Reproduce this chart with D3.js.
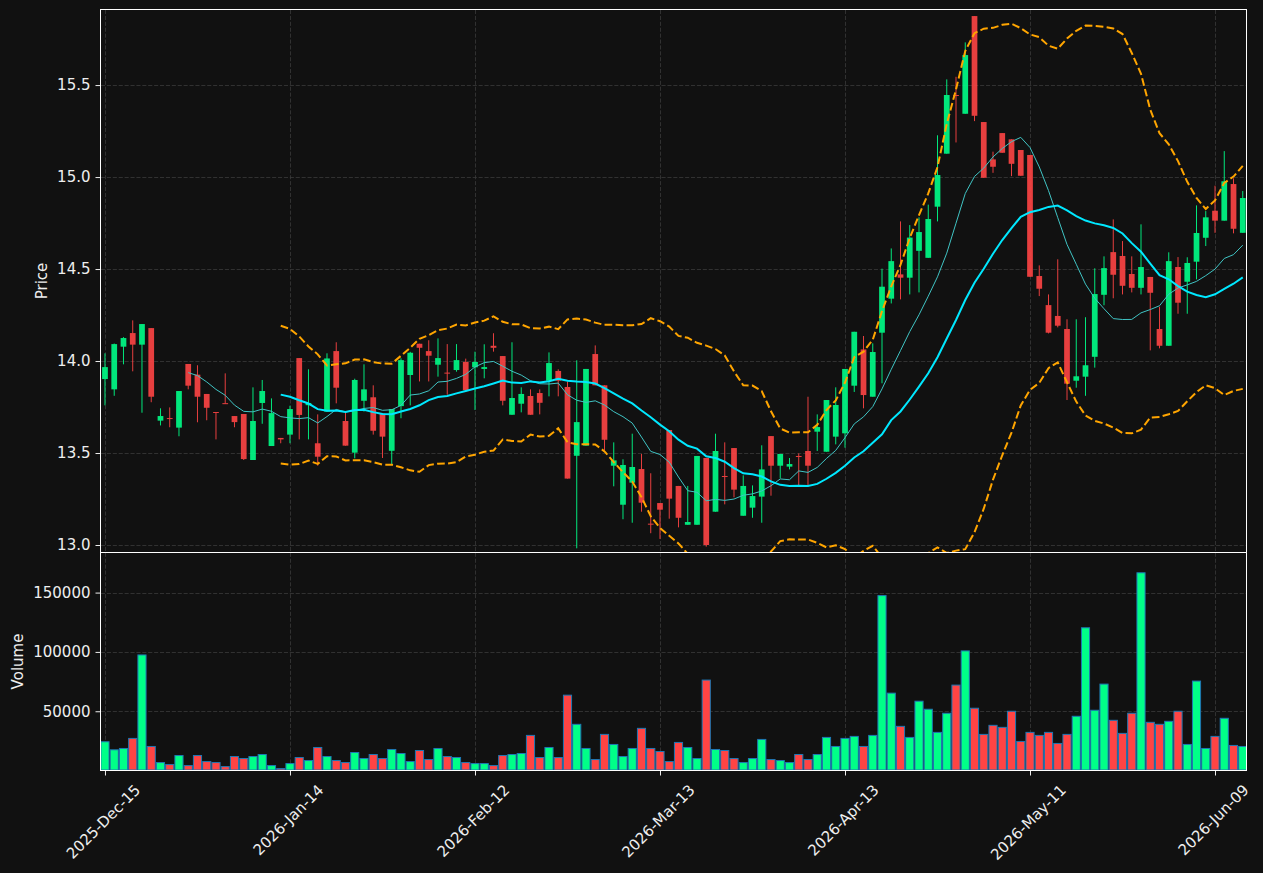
<!DOCTYPE html>
<html>
<head>
<meta charset="utf-8">
<script src="https://cdn.jsdelivr.net/npm/d3@7"></script>
<style>
  body { margin: 0; background: #111111; }
  text { font-family: "DejaVu Sans", sans-serif; }
</style>
</head>
<body>
<div id="chart"></div>
<script>
// daily OHLC + volume (index 0 = 2025-Dec-15)
var opens = [13.902, 13.846, 14.078, 14.152, 14.089, 14.179, 13.676, 13.690, 13.638, 13.984,
  13.926, 13.821, 13.723, 13.771, 13.701, 13.712, 13.462, 13.772, 13.538, 13.582,
  13.600, 14.016, 13.760, 13.553, 13.725, 14.054, 13.674, 13.502, 13.784, 13.803,
  13.714, 13.512, 13.755, 13.924, 14.094, 14.054, 13.980, 13.937, 13.951, 13.995,
  13.966, 13.957, 14.083, 14.027, 13.708, 13.768, 13.810, 13.826, 13.893, 13.946,
  13.859, 13.485, 13.540, 14.038, 13.868, 13.431, 13.219, 13.339, 13.413, 13.116,
  13.228, 13.625, 13.321, 13.110, 13.110, 13.473, 13.181, 13.375, 13.527, 13.159,
  13.203, 13.263, 13.592, 13.431, 13.426, 13.484, 13.511, 13.616, 13.507, 13.589,
  13.607, 13.866, 14.063, 13.806, 14.154, 14.339, 14.471, 14.453, 14.599, 14.561,
  14.839, 15.127, 15.446, 15.344, 15.875, 15.299, 15.096, 15.239, 15.205, 15.147,
  15.120, 14.462, 14.304, 14.245, 14.174, 13.893, 13.915, 14.023, 14.360, 14.592,
  14.571, 14.473, 14.398, 14.457, 14.174, 14.083, 14.511, 14.431, 14.540, 14.670,
  14.817, 14.763, 14.962, 14.697];
var highs = [14.042, 14.095, 14.130, 14.221, 14.201, 14.179, 13.743, 13.748, 13.837, 13.984,
  13.977, 13.821, 13.723, 13.933, 13.701, 13.712, 13.857, 13.897, 13.797, 13.582,
  13.757, 14.016, 13.955, 13.710, 14.042, 14.102, 13.725, 13.904, 13.982, 13.868,
  13.714, 13.739, 14.015, 14.050, 14.094, 14.113, 14.123, 14.092, 14.092, 14.013,
  14.051, 14.091, 14.151, 14.027, 14.102, 13.857, 13.846, 13.846, 14.047, 13.955,
  13.888, 14.004, 13.957, 14.085, 13.868, 13.558, 13.466, 13.605, 13.495, 13.390,
  13.228, 13.625, 13.321, 13.321, 13.484, 13.473, 13.605, 13.558, 13.527, 13.379,
  13.324, 13.542, 13.592, 13.495, 13.473, 13.498, 13.806, 13.710, 13.788, 13.857,
  13.957, 14.159, 14.136, 14.096, 14.502, 14.612, 14.759, 14.739, 14.781, 14.850,
  15.227, 15.531, 15.545, 15.732, 15.875, 15.299, 15.138, 15.239, 15.205, 15.147,
  15.120, 14.520, 14.362, 14.553, 14.227, 14.227, 14.238, 14.504, 14.569, 14.770,
  14.652, 14.569, 14.743, 14.457, 14.295, 14.591, 14.565, 14.564, 14.846, 14.815,
  14.953, 15.141, 14.993, 14.924];
var lows = [13.759, 13.811, 13.982, 13.944, 13.719, 13.776, 13.650, 13.640, 13.591, 13.846,
  13.667, 13.678, 13.574, 13.768, 13.640, 13.462, 13.462, 13.659, 13.538, 13.553,
  13.553, 13.574, 13.574, 13.431, 13.725, 13.770, 13.540, 13.471, 13.725, 13.600,
  13.473, 13.440, 13.689, 13.759, 13.889, 13.889, 13.915, 13.817, 13.942, 13.842,
  13.734, 13.906, 14.051, 13.759, 13.708, 13.721, 13.708, 13.710, 13.808, 13.808,
  13.361, 12.982, 13.540, 13.868, 13.513, 13.319, 13.140, 13.121, 13.181, 13.064,
  13.033, 13.143, 13.096, 13.110, 13.110, 12.991, 13.181, 13.221, 13.259, 13.159,
  13.148, 13.121, 13.268, 13.362, 13.411, 13.326, 13.326, 13.511, 13.507, 13.547,
  13.529, 13.832, 13.743, 13.806, 13.879, 14.313, 14.335, 14.362, 14.373, 14.561,
  14.759, 15.127, 15.188, 15.344, 15.304, 14.996, 15.023, 15.132, 15.005, 15.007,
  14.458, 14.353, 14.150, 14.183, 13.788, 13.855, 13.811, 13.964, 14.303, 14.341,
  14.362, 14.373, 14.362, 14.058, 14.069, 14.083, 14.257, 14.257, 14.444, 14.625,
  14.697, 14.763, 14.694, 14.697];
var closes = [13.967, 14.092, 14.125, 14.089, 14.201, 13.806, 13.701, 13.686, 13.837, 13.866,
  13.806, 13.746, 13.720, 13.768, 13.668, 13.467, 13.674, 13.837, 13.717, 13.574,
  13.739, 13.707, 13.772, 13.480, 14.014, 13.855, 13.540, 13.897, 13.846, 13.621,
  13.589, 13.739, 14.005, 14.045, 14.072, 14.029, 14.016, 13.935, 14.005, 13.842,
  13.995, 13.967, 14.072, 13.784, 13.799, 13.821, 13.708, 13.773, 13.989, 13.893,
  13.361, 13.668, 13.957, 13.868, 13.572, 13.460, 13.435, 13.424, 13.230, 13.114,
  13.192, 13.252, 13.148, 13.125, 13.484, 13.000, 13.511, 13.371, 13.301, 13.321,
  13.266, 13.411, 13.431, 13.495, 13.440, 13.480, 13.431, 13.641, 13.788, 13.761,
  13.957, 14.159, 13.815, 14.049, 14.404, 14.543, 14.453, 14.671, 14.701, 14.772,
  15.011, 15.446, 15.442, 15.663, 15.333, 14.996, 15.056, 15.132, 15.072, 15.007,
  14.458, 14.393, 14.154, 14.192, 13.877, 13.917, 13.977, 14.364, 14.505, 14.469,
  14.409, 14.398, 14.511, 14.371, 14.083, 14.543, 14.317, 14.533, 14.696, 14.781,
  14.763, 14.977, 14.719, 14.886];
var volumes = [24300, 17520, 18650, 27120, 97460, 20340, 6780, 5090, 12710, 4240,
  12710, 7630, 6780, 3390, 11870, 10170, 11870, 13560, 4240, 1700,
  5930, 11020, 8480, 19490, 11870, 8480, 6780, 15260, 10170, 13560,
  10170, 17800, 14410, 7630, 16950, 9320, 18650, 11870, 11020, 6780,
  5930, 5930, 4240, 12710, 13560, 14410, 29660, 11020, 19490, 11020,
  63560, 38990, 18650, 9320, 30510, 22040, 11870, 18650, 35600, 18650,
  16100, 7630, 23730, 19490, 10170, 76280, 17800, 16950, 10170, 6780,
  10170, 26270, 9320, 8480, 6780, 13560, 9320, 13560, 27970, 20340,
  27120, 28820, 20340, 29660, 147470, 65260, 37290, 27970, 58480, 51700,
  32210, 48310, 72040, 100850, 52550, 30510, 38140, 36440, 50000, 24580,
  32210, 29660, 32210, 22880, 30510, 45770, 120350, 50850, 72890, 42380,
  31360, 48310, 166680, 40680, 38990, 41530, 50000, 22040, 75430, 18650,
  28820, 44070, 21190, 20340];

var tickIndex = [0, 20, 40, 60, 80, 100, 120];
var tickLabels = ["2025-Dec-15", "2026-Jan-14", "2026-Feb-12", "2026-Mar-13",
  "2026-Apr-13", "2026-May-11", "2026-Jun-09"];
var priceTicks = [13.0, 13.5, 14.0, 14.5, 15.0, 15.5];
var volumeTicks = [50000, 100000, 150000];

var W = 1263, H = 873;
var left = 101, right = 1246;
var pTop = 10, pBottom = 552, vTop = 553, vBottom = 770;

var upColor = "#00ff88", downColor = "#ff4444";
var gridColor = "#3a3a3a", textColor = "#eeeeee";
var fontSize = "15px";

var data = closes.map(function (c, i) {
  return { i: i, o: opens[i], h: highs[i], l: lows[i], c: c, v: volumes[i] };
});

// rolling mean / 2-sigma bands of the closes
function rolling(n, fn) {
  var out = [];
  for (var i = n - 1; i < closes.length; i++) {
    out.push({ i: i, v: fn(closes.slice(i - n + 1, i + 1)) });
  }
  return out;
}
var ma10 = rolling(10, function (w) { return d3.mean(w); });
var ma20 = rolling(20, function (w) { return d3.mean(w); });
var bbUp = rolling(20, function (w) {
  var m = d3.mean(w);
  return m + 2 * Math.sqrt(d3.mean(w, function (d) { return (d - m) * (d - m); }));
});
var bbLo = rolling(20, function (w) {
  var m = d3.mean(w);
  return m - 2 * Math.sqrt(d3.mean(w, function (d) { return (d - m) * (d - m); }));
});

var x = d3.scaleLinear().domain([-0.43, 123.35]).range([left, right]);
var yP = d3.scaleLinear().domain([12.962, 15.908]).range([pBottom, pTop]);
var yV = d3.scaleLinear()
  .domain([0.3 * d3.min(volumes), 1.1 * d3.max(volumes)])
  .range([vBottom, vTop]);

var step = x(1) - x(0);

var svg = d3.select("#chart").append("svg")
  .attr("width", W)
  .attr("height", H)
  .style("background", "#111111");

var defs = svg.append("defs");
defs.append("clipPath").attr("id", "clipP").append("rect")
  .attr("x", left).attr("y", pTop).attr("width", right - left).attr("height", pBottom - pTop);
defs.append("clipPath").attr("id", "clipV").append("rect")
  .attr("x", left).attr("y", vTop).attr("width", right - left).attr("height", vBottom - vTop);

// grid
var grid = svg.append("g")
  .attr("stroke", gridColor)
  .attr("stroke-width", 0.8)
  .attr("stroke-dasharray", "4.1,1.8");

grid.selectAll(".gx").data(tickIndex).enter().append("line")
  .attr("x1", function (d) { return Math.round(x(d)) + 0.5; })
  .attr("x2", function (d) { return Math.round(x(d)) + 0.5; })
  .attr("y1", pTop).attr("y2", vBottom);

grid.selectAll(".gp").data(priceTicks).enter().append("line")
  .attr("x1", left).attr("x2", right)
  .attr("y1", function (d) { return Math.round(yP(d)) + 0.5; })
  .attr("y2", function (d) { return Math.round(yP(d)) + 0.5; });

grid.selectAll(".gv").data(volumeTicks).enter().append("line")
  .attr("x1", left).attr("x2", right)
  .attr("y1", function (d) { return Math.round(yV(d)) + 0.5; })
  .attr("y2", function (d) { return Math.round(yV(d)) + 0.5; });

// candles
var price = svg.append("g").attr("clip-path", "url(#clipP)");
var candles = price.selectAll(".candle").data(data).enter().append("g")
  .attr("class", "candle")
  .attr("opacity", 0.9);

candles.append("line")
  .attr("x1", function (d) { return x(d.i); })
  .attr("x2", function (d) { return x(d.i); })
  .attr("y1", function (d) { return yP(d.h); })
  .attr("y2", function (d) { return yP(d.l); })
  .attr("stroke", function (d) { return d.c >= d.o ? upColor : downColor; })
  .attr("stroke-width", 1);

candles.append("rect")
  .attr("x", function (d) { return x(d.i) - step * 0.31; })
  .attr("width", step * 0.62)
  .attr("y", function (d) { return yP(Math.max(d.o, d.c)); })
  .attr("height", function (d) { return Math.max(1, yP(Math.min(d.o, d.c)) - yP(Math.max(d.o, d.c))); })
  .attr("fill", function (d) { return d.c >= d.o ? upColor : downColor; });

// moving averages and bands
var line = d3.line()
  .x(function (d) { return x(d.i); })
  .y(function (d) { return yP(d.v); });

price.append("path").datum(ma10)
  .attr("d", line).attr("fill", "none")
  .attr("stroke", "#40c4c4").attr("stroke-width", 1);

price.append("path").datum(ma20)
  .attr("d", line).attr("fill", "none")
  .attr("stroke", "#00e8ff").attr("stroke-width", 2);

[bbUp, bbLo].forEach(function (band) {
  price.append("path").datum(band)
    .attr("d", line).attr("fill", "none")
    .attr("stroke", "#ffa500").attr("stroke-width", 2)
    .attr("stroke-dasharray", "7.7,3.3");
});

// volume bars
svg.append("g").attr("clip-path", "url(#clipV)")
  .selectAll(".vol").data(data).enter().append("rect")
  .attr("class", "vol")
  .attr("x", function (d) { return x(d.i) - step * 0.44; })
  .attr("width", step * 0.88)
  .attr("y", function (d) { return yV(d.v); })
  .attr("height", function (d) { return vBottom - yV(d.v); })
  .attr("fill", function (d) { return d.c >= d.o ? upColor : downColor; })
  .attr("stroke", "#1f77b4")
  .attr("stroke-width", 1);

// axes
function styleAxis(g) {
  g.select(".domain").remove();
  g.selectAll(".tick line").attr("stroke", textColor);
  g.selectAll(".tick text").attr("fill", textColor).style("font-size", fontSize);
}

svg.append("g")
  .attr("transform", "translate(" + (left - 0.5) + ",0)")
  .call(d3.axisLeft(yP).tickValues(priceTicks).tickFormat(d3.format(".1f")).tickSize(5).tickPadding(5))
  .call(styleAxis);

svg.append("g")
  .attr("transform", "translate(" + (left - 0.5) + ",0)")
  .call(d3.axisLeft(yV).tickValues(volumeTicks).tickFormat(d3.format("d")).tickSize(5).tickPadding(5))
  .call(styleAxis);

var xAxis = svg.append("g")
  .attr("transform", "translate(0," + (vBottom + 0.5) + ")")
  .call(d3.axisBottom(x).tickValues(tickIndex)
    .tickFormat(function (d, i) { return tickLabels[i]; }).tickSize(5))
  .call(styleAxis);

xAxis.selectAll(".tick text")
  .attr("y", null)
  .attr("dy", null)
  .attr("text-anchor", "middle")
  .attr("dominant-baseline", "central")
  .attr("transform", function () {
    var w = this.getComputedTextLength();
    var off = 10 + (w + 17) / (2 * Math.SQRT2) + 1;
    return "translate(-2," + off + ") rotate(-45)";
  });

// panel frames
svg.append("rect")
  .attr("x", left - 0.5).attr("y", pTop - 0.5)
  .attr("width", right - left + 1).attr("height", pBottom - pTop + 1)
  .attr("fill", "none").attr("stroke", "#ffffff").attr("stroke-width", 1);

svg.append("rect")
  .attr("x", left - 0.5).attr("y", vTop - 0.5)
  .attr("width", right - left + 1).attr("height", vBottom - vTop + 1)
  .attr("fill", "none").attr("stroke", "#ffffff").attr("stroke-width", 1);

// axis titles
svg.append("text")
  .attr("transform", "translate(42," + ((pTop + pBottom) / 2) + ") rotate(-90)")
  .attr("text-anchor", "middle")
  .attr("dominant-baseline", "central")
  .attr("fill", textColor)
  .style("font-size", fontSize)
  .text("Price");

svg.append("text")
  .attr("transform", "translate(18," + ((vTop + vBottom) / 2) + ") rotate(-90)")
  .attr("text-anchor", "middle")
  .attr("dominant-baseline", "central")
  .attr("fill", textColor)
  .style("font-size", fontSize)
  .text("Volume");
</script>
</body>
</html>
